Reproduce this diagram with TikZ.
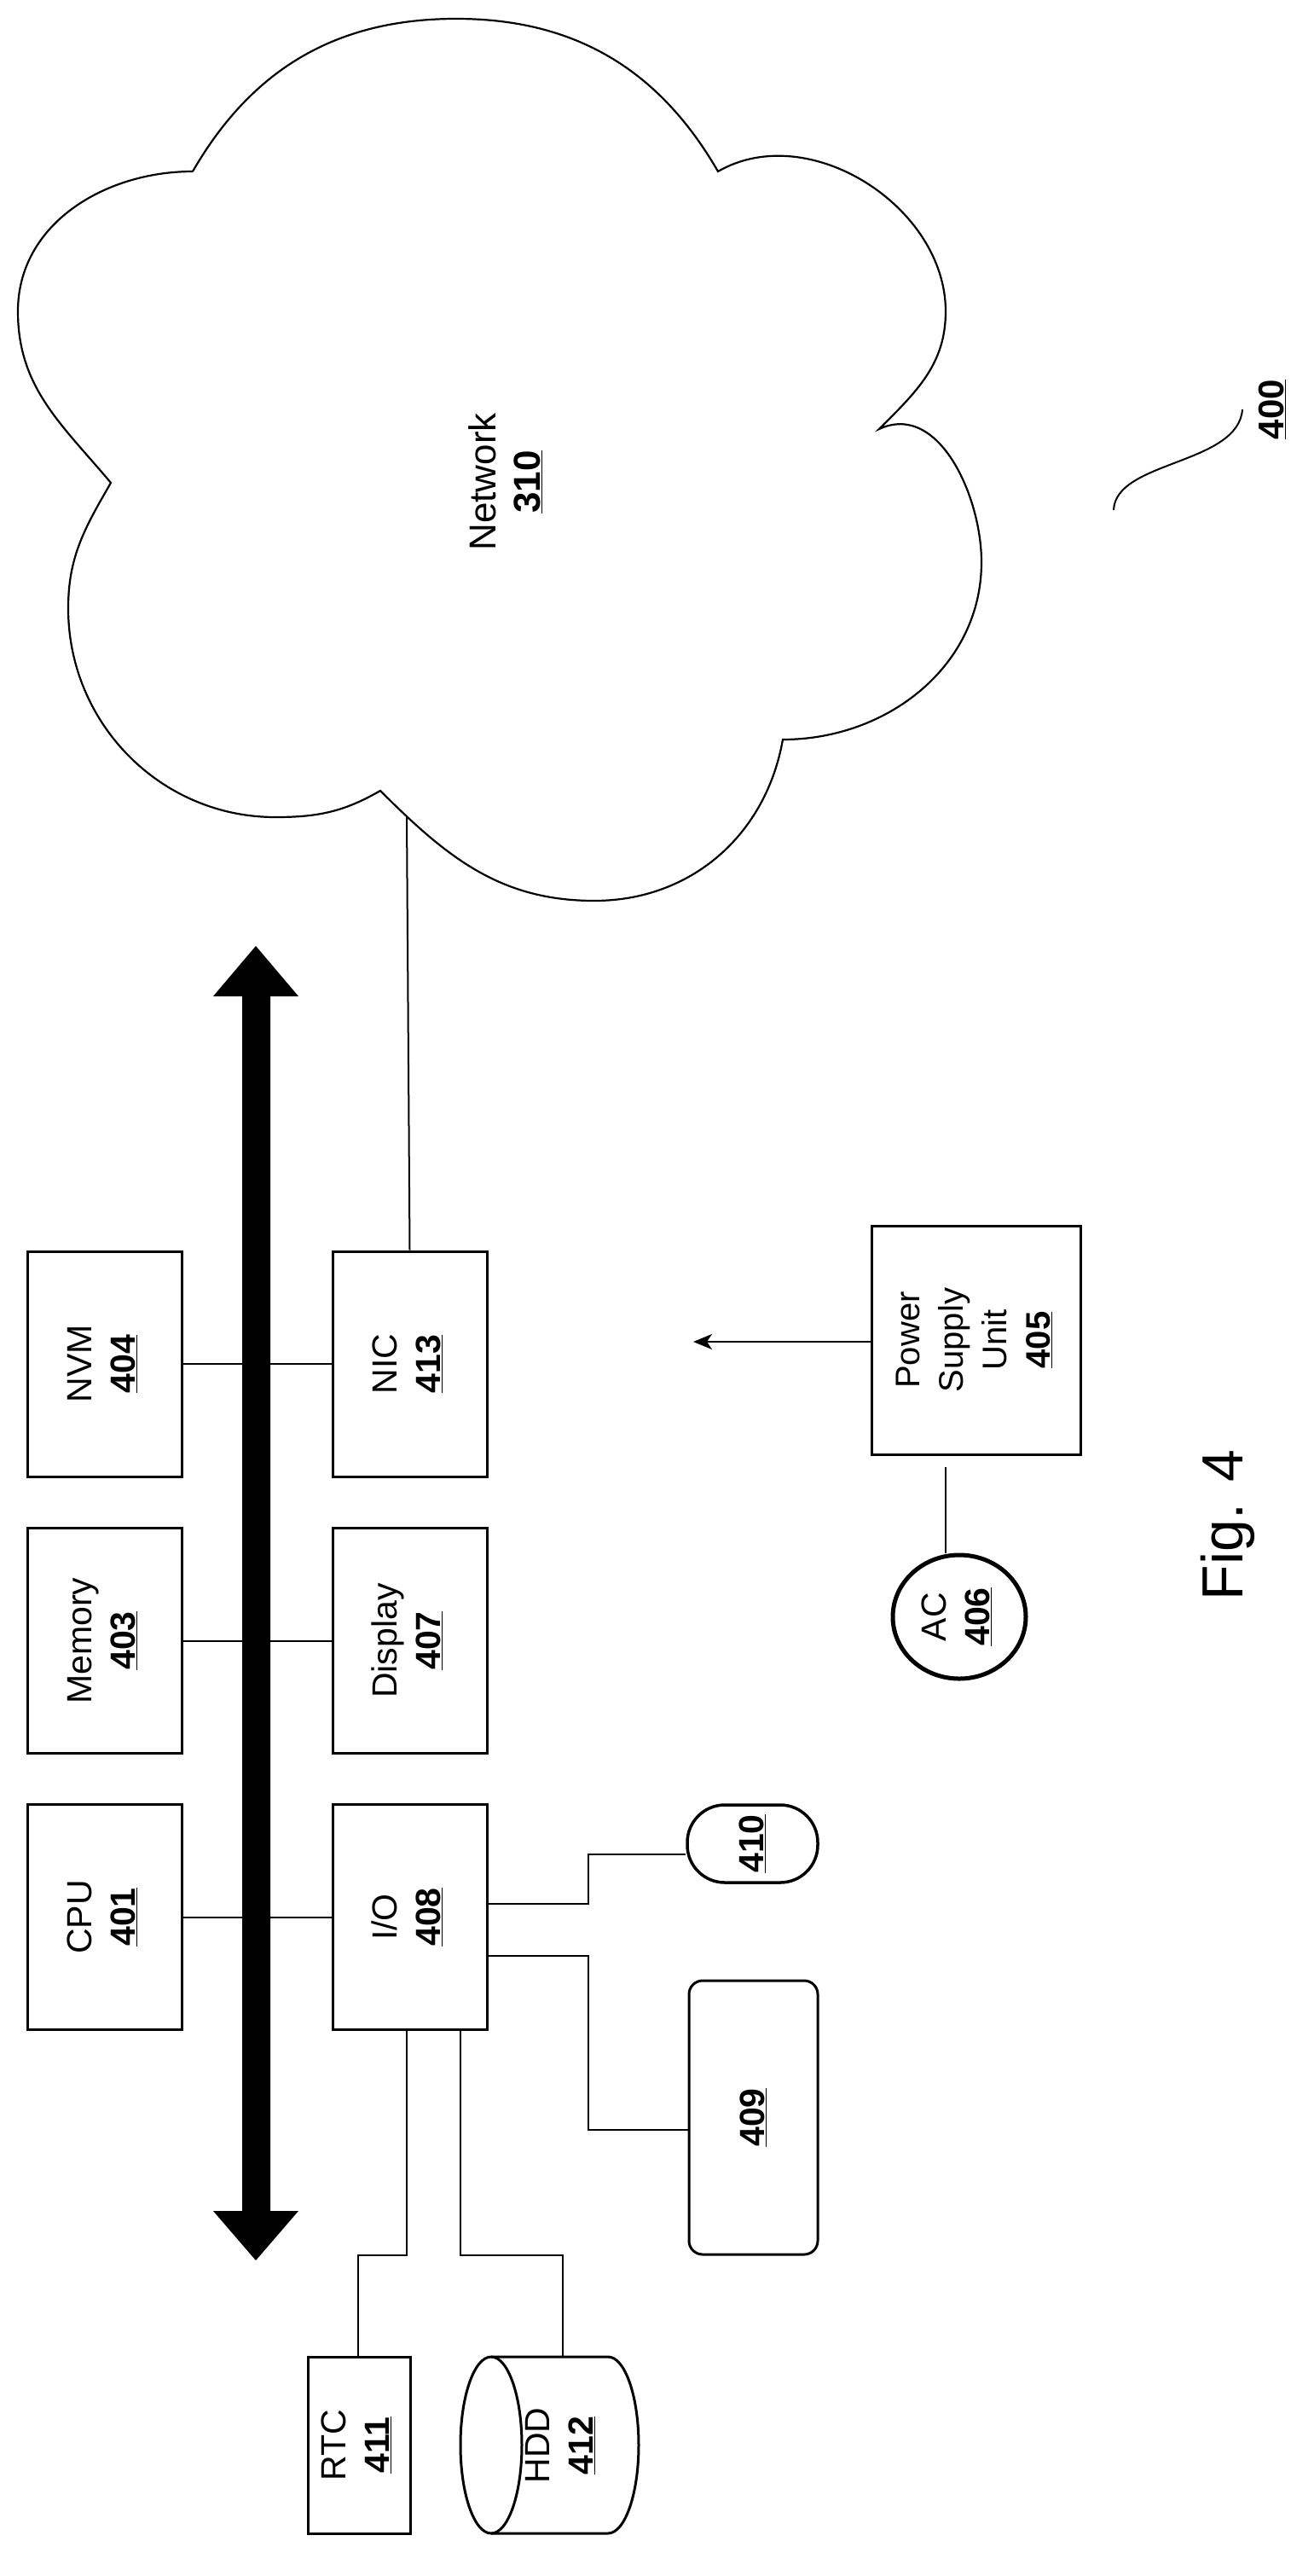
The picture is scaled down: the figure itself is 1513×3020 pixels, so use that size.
\documentclass[tikz,border=0pt]{standalone}
\usepackage{fontspec}
\setmainfont{Liberation Sans}
\usetikzlibrary{shapes.geometric,arrows.meta}
\begin{document}
\newcommand{\lab}[2]{\rotatebox{90}{\begin{tabular}{@{}c@{}}#1\\\underline{\textbf{#2}}\end{tabular}}}
\begin{tikzpicture}[x=1pt,y=-1pt,
  box/.style={draw,line width=3pt,inner sep=0pt,minimum width=181pt,minimum height=264pt,font=\fontsize{41}{51}\selectfont},
  con/.style={line width=2pt},
  every node/.style={font=\fontsize{41}{51}\selectfont}]
\useasboundingbox (0,0) rectangle (1513,3020);
% cloud
\draw[line width=2.2pt] (226,201) to[out=60,in=180] (535,22) to[out=0,in=120] (842,201)
  to[out=30,in=90] (1109,365) to[out=-90,in=45] (1031,503)
  to[out=25,in=90] (1151,659) to[out=-90,in=0] (918,867)
  to[out=-100,in=0] (697,1056) to[out=180,in=-45] (446,927)
  to[out=-150,in=0] (323,958) to[out=180,in=-90] (80,713) to[out=90,in=-120] (130,566)
  to[out=130,in=-90] (21,365) to[out=90,in=180] (226,201);
\node[font=\fontsize{44}{52}\selectfont] (net) at (597,565) {\lab{Network}{310}};
% boxes
\node[box] (nvm) at (122.5,1599) {\lab{NVM}{404}};
\node[box] (mem) at (122.5,1923.5) {\lab{Memory}{403}};
\node[box] (cpu) at (122.5,2247.5) {\lab{CPU}{401}};
\node[box] (nic) at (480.5,1599) {\lab{NIC}{413}};
\node[box] (disp) at (480.5,1923.5) {\lab{Display}{407}};
\node[box] (io) at (480.5,2247.5) {\lab{I/O}{408}};
\node[draw,line width=3.5pt,rounded corners=44pt,minimum width=153pt,minimum height=91pt,inner sep=0pt] (n410) at (882.5,2161.5) {\rotatebox{90}{\underline{\textbf{410}}}};
\node[draw,line width=3pt,rounded corners=16pt,minimum width=151pt,minimum height=321pt,inner sep=0pt] (n409) at (883.5,2482.5) {\rotatebox{90}{\underline{\textbf{409}}}};
\node[draw,line width=3pt,minimum width=120pt,minimum height=207pt,inner sep=0pt] (rtc) at (421,2866.5) {\lab{RTC}{411}};
\node[minimum width=209pt,minimum height=207pt,inner sep=0pt] (hdd) at (644.5,2866.5) {};
\draw[line width=3pt] (576,2763) -- (713,2763) arc[start angle=90,end angle=-90,x radius=36pt,y radius=103.5pt] -- (576,2970);
\draw[line width=3pt] (576,2866.5) ellipse[x radius=36pt,y radius=103.5pt];
\node at (660,2867) {\lab{HDD}{412}};
\node[draw,line width=3pt,minimum width=245pt,minimum height=268pt,inner sep=0pt,font=\fontsize{40}{51}\selectfont] (psu) at (1144.5,1571) {\rotatebox{90}{\begin{tabular}{@{}c@{}}Power\\Supply\\Unit\\\underline{\textbf{405}}\end{tabular}}};
\node[draw,line width=5pt,ellipse,minimum width=156pt,minimum height=145pt,inner sep=0pt] (ac) at (1125,1895.5) {\lab{AC}{406}};
\coordinate (pt) at (813,1573);
\coordinate (acl) at (1109,1720);
% connectors
\draw[con] (nvm.east) -- (nic.west);
\draw[con] (mem.east) -- (disp.west);
\draw[con] (cpu.east) -- (io.west);
\draw[con] (nic.north) -- (477,958);
\draw[con] (io.east |- 0,2232) -| (690,2174) -- (n410.west |- 0,2174);
\draw[con] (io.east |- 0,2293) -| (690,2497) -- (n409.west |- 0,2497);
\draw[con] (477,2379) -- (477,2644) -| (rtc.north -| 420,0);
\draw[con] (540,2379) -- (540,2644) -| (660,2763);
\draw[con,-{Stealth[length=22pt,width=18pt,inset=6pt]}] (psu.west |- pt) -- (pt);
\draw[con] (acl) -- (ac.north -| acl);
% bus
\fill (284,1168) -- (250,1168) -- (300,1109) -- (350,1168) -- (317,1168) -- (317,2592) -- (350,2592) -- (300,2650) -- (250,2592) -- (284,2592) -- cycle;
% 400
\draw[con] (1306,598) .. controls (1308,540) and (1452,545) .. (1457,480);
\node[font=\fontsize{42}{50}\selectfont] (l400) at (1492,480) {\rotatebox{90}{\underline{\textbf{400}}}};
\node[font=\fontsize{68}{80}\selectfont] (fig) at (1440,1788) {\rotatebox{90}{Fig. 4}};
\end{tikzpicture}
\end{document}
